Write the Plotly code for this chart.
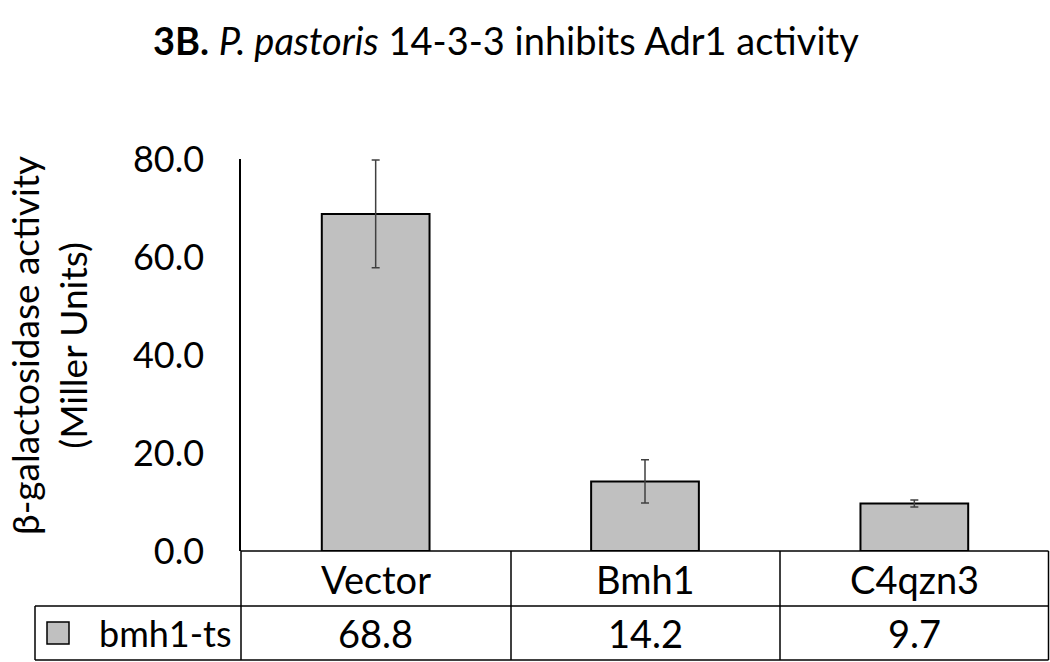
import plotly.graph_objects as go

# ---- data ----
categories = ["Vector", "Bmh1", "C4qzn3"]
series_name = "bmh1-ts"
values = [68.8, 14.2, 9.7]
errors = [11.0, 4.4, 0.7]
y_ticks = [0, 20, 40, 60, 80]
y_tick_labels = ["0.0", "20.0", "40.0", "60.0", "80.0"]
title_html = "<b>3B.</b> <i>P. pastoris</i> 14-3-3 inhibits Adr1 activity"
y_title = "β-galactosidase activity<br>(Miller Units)"

# ---- layout geometry (pixels) ----
W, H = 1050, 662
L, R, T, B = 241, 1, 159, 111
PW, PH = W - L - R, H - T - B
FONT = "Lato, Calibri, Carlito, sans-serif"
FS = 38
BAR_COLOR = "#c0c0c0"


def px(x):
    return (x - L) / PW


def py(y):
    return (H - B - y) / PH


fig = go.Figure()
fig.add_trace(go.Bar(
    x=list(range(len(categories))), y=values, name=series_name,
    width=0.40,
    marker=dict(color=BAR_COLOR, line=dict(color="black", width=2)),
    error_y=dict(type="data", array=errors, color="#404040", thickness=1.5, width=4),
    showlegend=False,
))

shapes = []
line = dict(color="black", width=1.5)
row_top, row_mid, row_bot = H - B, 606, 660
col_edges = [L, 511, 780, W - 1.5]
shapes.append(dict(type="line", xref="paper", yref="paper", x0=px(L), x1=px(W - 1.5),
                   y0=py(row_top), y1=py(row_top), line=line))
for yy in (row_mid, row_bot):
    shapes.append(dict(type="line", xref="paper", yref="paper", x0=px(35), x1=px(W - 1.5),
                       y0=py(yy), y1=py(yy), line=line))
for xx in col_edges:
    shapes.append(dict(type="line", xref="paper", yref="paper", x0=px(xx), x1=px(xx),
                       y0=py(row_top), y1=py(row_bot), line=line))
shapes.append(dict(type="line", xref="paper", yref="paper", x0=px(35), x1=px(35),
                   y0=py(row_mid), y1=py(row_bot), line=line))
shapes.append(dict(type="rect", xref="paper", yref="paper", x0=px(47), x1=px(69),
                   y0=py(644), y1=py(622), fillcolor=BAR_COLOR,
                   line=dict(color="black", width=1.5)))

annotations = []
for i, (c, v) in enumerate(zip(categories, values)):
    annotations.append(dict(x=i, xref="x", y=py((row_top + row_mid) / 2), yref="paper",
                            text=c, showarrow=False, xanchor="center", yanchor="middle",
                            font=dict(family=FONT, size=FS, color="black")))
    annotations.append(dict(x=i, xref="x", y=py((row_mid + row_bot) / 2), yref="paper",
                            text=f"{v:.1f}", showarrow=False, xanchor="center", yanchor="middle",
                            font=dict(family=FONT, size=FS, color="black")))
annotations.append(dict(x=px(97), xref="paper", y=py((row_mid + row_bot) / 2), yref="paper",
                        text=series_name, showarrow=False, xanchor="left", yanchor="middle",
                        font=dict(family=FONT, size=36, color="black")))
annotations.append(dict(x=px(48), xref="paper", y=py(346), yref="paper",
                        text=y_title, showarrow=False, textangle=-90,
                        xanchor="center", yanchor="middle",
                        font=dict(family=FONT, size=37, color="black")))
annotations.append(dict(x=px(506), xref="paper", y=py(40), yref="paper",
                        text=title_html, showarrow=False, xanchor="center", yanchor="middle",
                        font=dict(family=FONT, size=FS, color="black")))

fig.update_layout(
    width=W, height=H,
    margin=dict(l=L, r=R, t=T, b=B),
    paper_bgcolor="white", plot_bgcolor="white",
    shapes=shapes, annotations=annotations,
    xaxis=dict(range=[-0.5, 2.5], showticklabels=False, showgrid=False,
               zeroline=False, showline=False, ticks=""),
    yaxis=dict(range=[0, 80], tickvals=y_ticks, ticktext=y_tick_labels,
               showgrid=False, zeroline=False, showline=True, linecolor="black",
               linewidth=1.5, ticks="", ticklabelstandoff=28,
               tickfont=dict(family=FONT, size=36, color="black")),
    font=dict(family=FONT),
)

fig.write_html("out.html", config={"displayModeBar": False},
               post_script="document.body.style.margin='0px';document.body.style.overflow='hidden';")
